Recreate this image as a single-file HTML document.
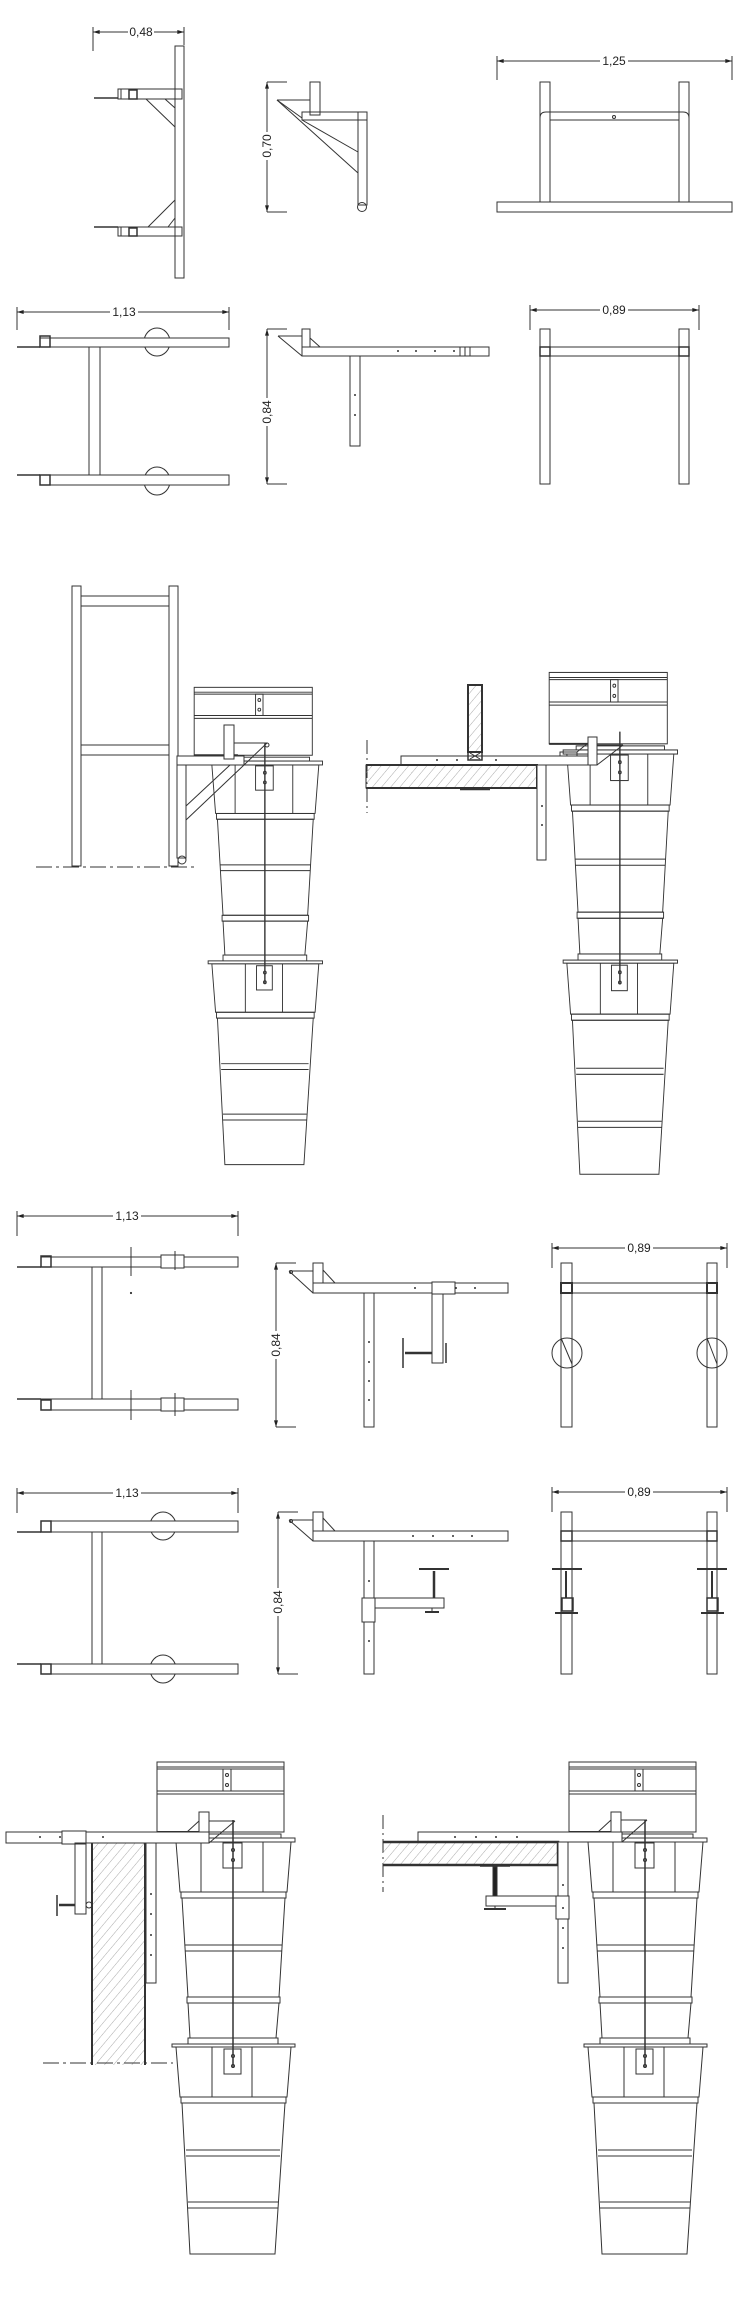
<!DOCTYPE html>
<html><head><meta charset="utf-8"><style>html,body{margin:0;padding:0;background:#fff}svg{display:block}</style></head>
<body>
<svg width="754" height="2310" viewBox="0 0 754 2310" xmlns="http://www.w3.org/2000/svg" font-family="Liberation Sans, sans-serif" font-size="12">
<defs>
<marker id="ar" viewBox="0 0 10 6" refX="10" refY="3" markerWidth="8" markerHeight="4" orient="auto-start-reverse" markerUnits="userSpaceOnUse"><path d="M10,3 L0,0 L0,6 z" fill="#222"/></marker>
<pattern id="h" width="7" height="7" patternUnits="userSpaceOnUse" patternTransform="rotate(40)"><line x1="0" y1="0" x2="0" y2="7" stroke="#aaa" stroke-width="1"/></pattern>
<g id="bk" fill="none" stroke="#333" stroke-width="1">
<rect x="-17" y="-78" width="127" height="70" fill="#fff"/>
<line x1="-17" y1="-73" x2="110" y2="-73"/><line x1="-17" y1="-71" x2="110" y2="-71"/>
<line x1="-17" y1="-49" x2="110" y2="-49"/><line x1="-17" y1="-46" x2="110" y2="-46"/>
<rect x="49" y="-71" width="8" height="22"/><circle cx="53" cy="-65" r="1.5"/><circle cx="53" cy="-55" r="1.5"/>
<line x1="-17" y1="-8" x2="30" y2="-8" stroke-width="2"/>
<rect x="12" y="-6" width="95" height="4"/>
<path d="M2,2 L117,2 L113,52 L6,52 Z"/>
<rect x="-2" y="-2" width="123" height="4" fill="#fff"/>
<line x1="27" y1="2" x2="27" y2="52"/><line x1="89" y1="2" x2="89" y2="52"/>
<rect x="49" y="3" width="19" height="25"/><circle cx="59" cy="10" r="1.5"/><circle cx="59" cy="20" r="1.5"/>
<rect x="7" y="52" width="105" height="6"/>
<path d="M8,58 L111,58 L105,157 L14,157 Z"/>
<line x1="11" y1="105" x2="108" y2="105"/><line x1="11" y1="111" x2="108" y2="111"/>
<rect x="13" y="157" width="93" height="6"/>
<path d="M14,163 L105,163 L102,198 L16,198 Z"/>
<rect x="14" y="198" width="90" height="7"/>
<path d="M2,207 L117,207 L113,257 L6,257 Z"/>
<rect x="-2" y="204" width="123" height="3" fill="#fff"/>
<line x1="38" y1="207" x2="38" y2="257"/><line x1="78" y1="207" x2="78" y2="257"/>
<rect x="50" y="209" width="17" height="25"/><circle cx="59" cy="216" r="1.5"/><circle cx="59" cy="226" r="1.5"/>
<rect x="7" y="257" width="105" height="6"/>
<path d="M8,263 L111,263 L101,414 L16,414 Z"/>
<line x1="12" y1="310" x2="106" y2="310"/><line x1="12" y1="316" x2="106" y2="316"/>
<line x1="14" y1="362" x2="104" y2="362"/><line x1="14" y1="368" x2="104" y2="368"/>
<line x1="59" y1="-20" x2="59" y2="228" stroke-width="1.5"/>
</g>
</defs>

<g fill="none" stroke="#333" stroke-width="1">
<!-- ===== SECTION 1 ===== -->
<!-- dim 0,48 -->
<line x1="93" y1="32" x2="184" y2="32" marker-start="url(#ar)" marker-end="url(#ar)"/>
<line x1="93" y1="27" x2="93" y2="51"/><line x1="184" y1="27" x2="184" y2="45"/>
<rect x="128" y="25" width="26" height="13" fill="#fff" stroke="none"/>
<text x="141" y="36" text-anchor="middle" fill="#222" stroke="none">0,48</text>
<rect x="175" y="46" width="9" height="232"/>
<rect x="118" y="89" width="64" height="10"/><rect x="121" y="89" width="16" height="10"/><rect x="129" y="90" width="8" height="9" stroke-width="1.5"/>
<line x1="94" y1="98" x2="118" y2="98" stroke-width="1.5"/>
<line x1="146" y1="99" x2="175" y2="127"/><line x1="165" y1="99" x2="175" y2="108"/>
<rect x="118" y="227" width="64" height="9"/><rect x="121" y="227" width="16" height="9"/><rect x="129" y="228" width="8" height="8" stroke-width="1.5"/>
<line x1="94" y1="227" x2="118" y2="227" stroke-width="1.5"/>
<line x1="148" y1="227" x2="175" y2="200"/><line x1="168" y1="227" x2="175" y2="218"/>
<line x1="175" y1="93" x2="175" y2="231"/>

<!-- side 0,70 -->
<line x1="267" y1="82" x2="267" y2="212" marker-start="url(#ar)" marker-end="url(#ar)"/>
<line x1="267" y1="82" x2="287" y2="82"/><line x1="267" y1="212" x2="287" y2="212"/>
<rect x="261" y="132" width="13" height="28" fill="#fff" stroke="none"/>
<text transform="translate(271,146) rotate(-90)" text-anchor="middle" fill="#222" stroke="none">0,70</text>
<rect x="310" y="82" width="10" height="33"/>
<rect x="302" y="112" width="65" height="8"/>
<rect x="358" y="112" width="9" height="93"/>
<circle cx="362" cy="207" r="4.5"/>
<line x1="277" y1="100" x2="310" y2="100"/>
<line x1="277" y1="100" x2="358" y2="173"/>
<line x1="302" y1="120" x2="358" y2="152"/>
<line x1="277" y1="100" x2="302" y2="118"/>

<!-- front 1,25 -->
<line x1="497" y1="61" x2="732" y2="61" marker-start="url(#ar)" marker-end="url(#ar)"/>
<line x1="497" y1="56" x2="497" y2="80"/><line x1="732" y1="56" x2="732" y2="80"/>
<rect x="600" y="54" width="28" height="13" fill="#fff" stroke="none"/>
<text x="614" y="65" text-anchor="middle" fill="#222" stroke="none">1,25</text>
<rect x="540" y="82" width="10" height="120"/><rect x="679" y="82" width="10" height="120"/>
<path d="M540,202 V118 Q540,112 546,112 H683 Q689,112 689,118 V202"/>
<rect x="550" y="120" width="129" height="82"/>
<rect x="497" y="202" width="235" height="10" fill="#fff"/>
<circle cx="614" cy="117" r="1.5"/>

<!-- row 2 plan 1,13 -->
<line x1="17" y1="312" x2="229" y2="312" marker-start="url(#ar)" marker-end="url(#ar)"/>
<line x1="17" y1="307" x2="17" y2="330"/><line x1="229" y1="307" x2="229" y2="330"/>
<rect x="110" y="305" width="28" height="13" fill="#fff" stroke="none"/>
<text x="124" y="316" text-anchor="middle" fill="#222" stroke="none">1,13</text>
<ellipse cx="157" cy="342" rx="13" ry="14"/>
<rect x="40" y="338" width="189" height="9" fill="#fff"/><rect x="40" y="336" width="10" height="11" stroke-width="1.5"/>
<line x1="17" y1="347" x2="40" y2="347" stroke-width="1.5"/>
<rect x="89" y="347" width="11" height="128"/>
<ellipse cx="157" cy="481" rx="13" ry="14"/>
<rect x="40" y="475" width="189" height="10" fill="#fff"/><rect x="40" y="475" width="10" height="10" stroke-width="1.5"/>
<line x1="17" y1="475" x2="40" y2="475" stroke-width="1.5"/>

<!-- row 2 side 0,84 -->
<line x1="267" y1="329" x2="267" y2="484" marker-start="url(#ar)" marker-end="url(#ar)"/>
<line x1="267" y1="329" x2="287" y2="329"/><line x1="267" y1="484" x2="287" y2="484"/>
<rect x="261" y="398" width="13" height="28" fill="#fff" stroke="none"/>
<text transform="translate(271,412) rotate(-90)" text-anchor="middle" fill="#222" stroke="none">0,84</text>
<rect x="302" y="329" width="8" height="18"/>
<rect x="302" y="347" width="187" height="9"/>
<line x1="278" y1="336" x2="302" y2="336"/><line x1="278" y1="336" x2="302" y2="356"/><line x1="310" y1="338" x2="320" y2="347"/>
<line x1="460" y1="347" x2="460" y2="356"/><line x1="465" y1="347" x2="465" y2="356"/><line x1="470" y1="347" x2="470" y2="356"/>
<rect x="350" y="356" width="10" height="90"/>
<g fill="#333" stroke="none"><circle cx="398" cy="351" r="1"/><circle cx="416" cy="351" r="1"/><circle cx="435" cy="351" r="1"/><circle cx="454" cy="351" r="1"/><circle cx="355" cy="395" r="1"/><circle cx="355" cy="415" r="1"/></g>

<!-- row 2 front 0,89 -->
<line x1="530" y1="310" x2="699" y2="310" marker-start="url(#ar)" marker-end="url(#ar)"/>
<line x1="530" y1="305" x2="530" y2="330"/><line x1="699" y1="305" x2="699" y2="330"/>
<rect x="600" y="303" width="28" height="13" fill="#fff" stroke="none"/>
<text x="614" y="314" text-anchor="middle" fill="#222" stroke="none">0,89</text>
<rect x="540" y="329" width="10" height="155"/><rect x="679" y="329" width="10" height="155"/>
<rect x="550" y="347" width="129" height="9"/>
<rect x="540" y="347" width="10" height="9" stroke-width="1.5"/><rect x="679" y="347" width="10" height="9" stroke-width="1.5"/>

<!-- ===== SECTION 2 ===== -->
<rect x="72" y="586" width="9" height="280"/><rect x="169" y="586" width="9" height="280"/>
<rect x="81" y="596" width="88" height="10"/><rect x="81" y="745" width="88" height="10"/>
<line x1="36" y1="867" x2="195" y2="867" stroke-dasharray="16 4 3 4"/>
<use href="#bk" transform="translate(210,763) scale(0.93,0.97)"/>
<rect x="177" y="756" width="67" height="9" fill="#fff"/>
<rect x="177" y="765" width="9" height="93" fill="#fff"/>
<circle cx="182" cy="860" r="4"/>
<line x1="186" y1="820" x2="244" y2="765"/><line x1="186" y1="806" x2="230" y2="765"/>
<rect x="224" y="725" width="10" height="34" fill="#fff"/>
<line x1="234" y1="743" x2="267" y2="743"/><line x1="267" y1="743" x2="244" y2="765"/>
<circle cx="267" cy="745" r="2"/>

<!-- right -->
<line x1="367" y1="740" x2="367" y2="813" stroke-dasharray="14 4 2 4"/>
<use href="#bk" transform="translate(565,752) scale(0.93,1.02)"/>
<rect x="401" y="756" width="196" height="9" fill="#fff"/>
<rect x="366" y="765" width="171" height="23" fill="url(#h)"/>
<path d="M366,765 H537 V788 H366" stroke-width="2"/>
<line x1="460" y1="789" x2="490" y2="789" stroke-width="2.5"/>
<rect x="468" y="685" width="14" height="67" fill="url(#h)" stroke-width="2"/>
<rect x="468" y="752" width="14" height="8" stroke-width="1.5"/>
<path d="M470,753 L480,759 M480,753 L470,759"/>
<rect x="537" y="765" width="9" height="95" fill="#fff"/>
<rect x="560" y="752" width="17" height="4"/><line x1="577" y1="752" x2="588" y2="743"/>
<rect x="588" y="737" width="9" height="28" fill="#fff"/>
<line x1="597" y1="745" x2="623" y2="745"/><line x1="623" y1="745" x2="597" y2="765"/>
<g fill="#333" stroke="none"><circle cx="437" cy="760" r="1"/><circle cx="457" cy="760" r="1"/><circle cx="496" cy="760" r="1"/><circle cx="542" cy="806" r="1"/><circle cx="542" cy="825" r="1"/></g>

<!-- ===== SECTION 3 row 3 ===== -->
<line x1="17" y1="1216" x2="238" y2="1216" marker-start="url(#ar)" marker-end="url(#ar)"/>
<line x1="17" y1="1211" x2="17" y2="1236"/><line x1="238" y1="1211" x2="238" y2="1236"/>
<rect x="113" y="1209" width="28" height="13" fill="#fff" stroke="none"/>
<text x="127" y="1220" text-anchor="middle" fill="#222" stroke="none">1,13</text>
<rect x="41" y="1257" width="197" height="10"/><rect x="41" y="1256" width="10" height="11" stroke-width="1.5"/>
<line x1="17" y1="1267" x2="41" y2="1267" stroke-width="1.5"/>
<rect x="161" y="1255" width="23" height="13" fill="#fff"/>
<line x1="131" y1="1247" x2="131" y2="1276"/><line x1="175" y1="1251" x2="175" y2="1270"/>
<rect x="92" y="1267" width="10" height="132"/>
<rect x="41" y="1399" width="197" height="11"/><rect x="41" y="1400" width="10" height="10" stroke-width="1.5"/>
<line x1="17" y1="1399" x2="41" y2="1399" stroke-width="1.5"/>
<rect x="161" y="1398" width="23" height="13" fill="#fff"/>
<line x1="131" y1="1390" x2="131" y2="1420"/><line x1="175" y1="1393" x2="175" y2="1416"/>
<circle cx="131" cy="1293" r="0.6" fill="#333"/>

<line x1="276" y1="1263" x2="276" y2="1427" marker-start="url(#ar)" marker-end="url(#ar)"/>
<line x1="276" y1="1263" x2="296" y2="1263"/><line x1="276" y1="1427" x2="296" y2="1427"/>
<rect x="270" y="1331" width="13" height="28" fill="#fff" stroke="none"/>
<text transform="translate(280,1345) rotate(-90)" text-anchor="middle" fill="#222" stroke="none">0,84</text>
<rect x="313" y="1263" width="10" height="20"/>
<rect x="313" y="1283" width="195" height="10"/>
<line x1="289" y1="1271" x2="313" y2="1271"/><line x1="289" y1="1271" x2="313" y2="1293"/><line x1="323" y1="1270" x2="335" y2="1283"/>
<circle cx="291" cy="1272" r="1.5"/>
<rect x="364" y="1293" width="10" height="134"/>
<rect x="432" y="1282" width="23" height="12" fill="#fff"/>
<rect x="432" y="1294" width="11" height="69"/>
<line x1="405" y1="1353" x2="432" y2="1353" stroke-width="2.5"/>
<line x1="403" y1="1338" x2="403" y2="1368" stroke-width="1.5"/>
<line x1="446" y1="1343" x2="446" y2="1363" stroke-width="1.5"/>
<g fill="#333" stroke="none"><circle cx="415" cy="1288" r="1"/><circle cx="456" cy="1288" r="1"/><circle cx="475" cy="1288" r="1"/><circle cx="369" cy="1342" r="1"/><circle cx="369" cy="1362" r="1"/><circle cx="369" cy="1381" r="1"/><circle cx="369" cy="1400" r="1"/></g>

<line x1="552" y1="1248" x2="727" y2="1248" marker-start="url(#ar)" marker-end="url(#ar)"/>
<line x1="552" y1="1243" x2="552" y2="1268"/><line x1="727" y1="1243" x2="727" y2="1268"/>
<rect x="625" y="1241" width="28" height="13" fill="#fff" stroke="none"/>
<text x="639" y="1252" text-anchor="middle" fill="#222" stroke="none">0,89</text>
<rect x="561" y="1263" width="11" height="164"/><rect x="707" y="1263" width="10" height="164"/>
<rect x="572" y="1283" width="135" height="10"/>
<rect x="561" y="1283" width="11" height="10" stroke-width="2"/><rect x="707" y="1283" width="10" height="10" stroke-width="2"/>
<ellipse cx="567" cy="1353" rx="15" ry="15" fill="#fff"/><path d="M561,1338 V1368 M572,1338 V1368 M561,1338 L572,1364"/>
<ellipse cx="712" cy="1353" rx="15" ry="15" fill="#fff"/><path d="M707,1338 V1368 M717,1338 V1368 M707,1338 L717,1364"/>

<!-- ===== row 4 ===== -->
<line x1="17" y1="1493" x2="238" y2="1493" marker-start="url(#ar)" marker-end="url(#ar)"/>
<line x1="17" y1="1488" x2="17" y2="1513"/><line x1="238" y1="1488" x2="238" y2="1513"/>
<rect x="113" y="1486" width="28" height="13" fill="#fff" stroke="none"/>
<text x="127" y="1497" text-anchor="middle" fill="#222" stroke="none">1,13</text>
<ellipse cx="163" cy="1526" rx="13" ry="14"/>
<rect x="41" y="1521" width="197" height="11" fill="#fff"/><rect x="41" y="1521" width="10" height="11" stroke-width="1.5"/>
<line x1="17" y1="1532" x2="41" y2="1532" stroke-width="1.5"/>
<rect x="92" y="1532" width="10" height="132"/>
<ellipse cx="163" cy="1669" rx="13" ry="14"/>
<rect x="41" y="1664" width="197" height="10" fill="#fff"/><rect x="41" y="1664" width="10" height="10" stroke-width="1.5"/>
<line x1="17" y1="1664" x2="41" y2="1664" stroke-width="1.5"/>

<line x1="278" y1="1512" x2="278" y2="1674" marker-start="url(#ar)" marker-end="url(#ar)"/>
<line x1="278" y1="1512" x2="298" y2="1512"/><line x1="278" y1="1674" x2="298" y2="1674"/>
<rect x="272" y="1588" width="13" height="28" fill="#fff" stroke="none"/>
<text transform="translate(282,1602) rotate(-90)" text-anchor="middle" fill="#222" stroke="none">0,84</text>
<rect x="313" y="1512" width="10" height="19"/>
<rect x="313" y="1531" width="195" height="10"/>
<line x1="289" y1="1520" x2="313" y2="1520"/><line x1="289" y1="1520" x2="313" y2="1541"/><line x1="323" y1="1518" x2="335" y2="1531"/>
<circle cx="291" cy="1521" r="1.5"/>
<rect x="364" y="1541" width="10" height="133"/>
<rect x="362" y="1598" width="13" height="24" fill="#fff"/>
<rect x="375" y="1598" width="69" height="10"/>
<line x1="434" y1="1571" x2="434" y2="1598" stroke-width="2.5"/>
<line x1="419" y1="1569" x2="449" y2="1569" stroke-width="2"/>
<line x1="425" y1="1612" x2="439" y2="1612" stroke-width="2"/><line x1="432" y1="1608" x2="432" y2="1612"/>
<g fill="#333" stroke="none"><circle cx="413" cy="1536" r="1"/><circle cx="433" cy="1536" r="1"/><circle cx="453" cy="1536" r="1"/><circle cx="472" cy="1536" r="1"/><circle cx="369" cy="1581" r="1"/><circle cx="369" cy="1641" r="1"/></g>

<line x1="552" y1="1492" x2="727" y2="1492" marker-start="url(#ar)" marker-end="url(#ar)"/>
<line x1="552" y1="1487" x2="552" y2="1512"/><line x1="727" y1="1487" x2="727" y2="1512"/>
<rect x="625" y="1485" width="28" height="13" fill="#fff" stroke="none"/>
<text x="639" y="1496" text-anchor="middle" fill="#222" stroke="none">0,89</text>
<rect x="561" y="1512" width="11" height="162"/><rect x="707" y="1512" width="10" height="162"/>
<rect x="572" y="1531" width="135" height="10"/>
<rect x="561" y="1531" width="11" height="10" stroke-width="1.5"/><rect x="707" y="1531" width="10" height="10" stroke-width="1.5"/>
<g stroke-width="2"><line x1="552" y1="1569" x2="582" y2="1569"/><line x1="697" y1="1569" x2="727" y2="1569"/>
<line x1="566" y1="1571" x2="566" y2="1598"/><line x1="712" y1="1571" x2="712" y2="1598"/>
<line x1="555" y1="1613" x2="578" y2="1613"/><line x1="701" y1="1613" x2="724" y2="1613"/></g>
<rect x="562" y="1598" width="11" height="13" stroke-width="1.5"/><rect x="707" y="1598" width="11" height="13" stroke-width="1.5"/>

<!-- ===== SECTION 4 ===== -->
<use href="#bk" transform="translate(174,1840)"/>
<rect x="6" y="1832" width="203" height="11" fill="#fff"/>
<rect x="62" y="1831" width="24" height="13" fill="#fff"/>
<rect x="75" y="1843" width="11" height="71"/>
<line x1="59" y1="1905" x2="75" y2="1905" stroke-width="2.5"/>
<line x1="57" y1="1895" x2="57" y2="1916" stroke-width="1.5"/>
<circle cx="89" cy="1905" r="3"/>
<rect x="92" y="1843" width="53" height="222" fill="url(#h)" stroke="none"/>
<line x1="92" y1="1843" x2="92" y2="2065" stroke-width="2"/><line x1="145" y1="1843" x2="145" y2="2065" stroke-width="2"/>
<line x1="92" y1="1843" x2="145" y2="1843"/>
<rect x="146" y="1843" width="10" height="140" fill="#fff"/>
<line x1="43" y1="2063" x2="173" y2="2063" stroke-dasharray="16 4 3 4"/>
<rect x="199" y="1812" width="10" height="20" fill="#fff"/>
<line x1="187" y1="1832" x2="199" y2="1821"/>
<line x1="209" y1="1821" x2="235" y2="1821"/><line x1="235" y1="1821" x2="209" y2="1843"/>
<g fill="#333" stroke="none"><circle cx="40" cy="1837" r="1"/><circle cx="60" cy="1837" r="1"/><circle cx="103" cy="1837" r="1"/><circle cx="151" cy="1894" r="1"/><circle cx="151" cy="1914" r="1"/><circle cx="151" cy="1935" r="1"/><circle cx="151" cy="1955" r="1"/></g>

<!-- right -->
<use href="#bk" transform="translate(586,1840)"/>
<line x1="383" y1="1815" x2="383" y2="1892" stroke-dasharray="14 4 2 4"/>
<rect x="418" y="1832" width="204" height="10" fill="#fff"/>
<rect x="383" y="1842" width="175" height="23" fill="url(#h)" stroke="none"/>
<path d="M383,1842 H558 V1865 H383" stroke-width="2.5"/>
<line x1="480" y1="1866" x2="510" y2="1866" stroke-width="1.5"/>
<rect x="493" y="1867" width="4" height="29" fill="#222"/>
<rect x="486" y="1896" width="72" height="10" fill="#fff"/>
<line x1="484" y1="1909" x2="506" y2="1909" stroke-width="2"/><line x1="495" y1="1906" x2="495" y2="1909"/>
<rect x="558" y="1842" width="10" height="141" fill="#fff"/>
<rect x="556" y="1896" width="13" height="23" fill="#fff"/>
<rect x="611" y="1812" width="10" height="20" fill="#fff"/>
<line x1="598" y1="1832" x2="611" y2="1820"/>
<line x1="621" y1="1820" x2="647" y2="1820"/><line x1="647" y1="1820" x2="622" y2="1842"/>
<g fill="#333" stroke="none"><circle cx="455" cy="1837" r="1"/><circle cx="476" cy="1837" r="1"/><circle cx="496" cy="1837" r="1"/><circle cx="517" cy="1837" r="1"/><circle cx="563" cy="1885" r="1"/><circle cx="563" cy="1908" r="1"/><circle cx="563" cy="1928" r="1"/><circle cx="563" cy="1948" r="1"/></g>
</g>
</svg>
</body></html>
